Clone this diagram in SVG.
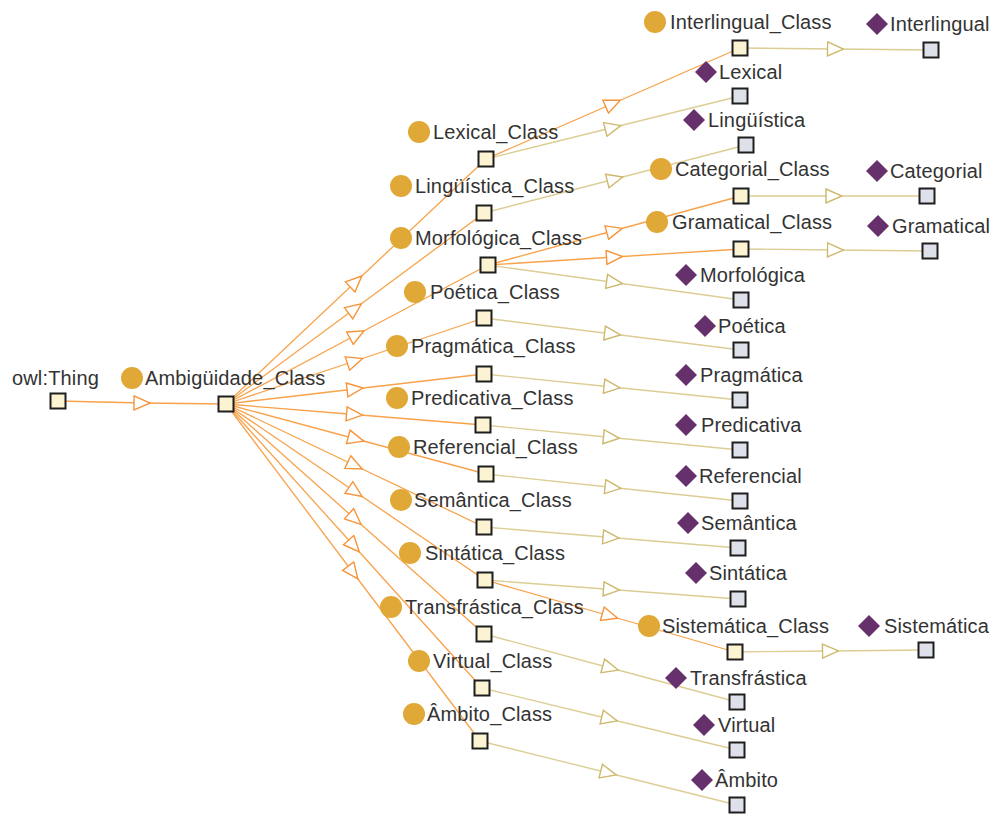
<svg xmlns="http://www.w3.org/2000/svg" width="994" height="816" viewBox="0 0 994 816">
<style>
text{font-family:"Liberation Sans",Arial,sans-serif;font-size:20px;letter-spacing:0.15px;fill:#333}
.cls{fill:#fbf3d2;stroke:#1e1e1e;stroke-width:2}
.ind{fill:#dfe1ea;stroke:#1e1e1e;stroke-width:2}
.ci{fill:#e0a836}
.di{fill:#65306b}
.sub{fill:none;stroke:#f8a24a;stroke-width:1.3;marker-mid:url(#ao)}
.ins{fill:none;stroke:#dccd94;stroke-width:1.3;marker-mid:url(#at)}
</style>
<defs>
<marker id="ao" markerUnits="userSpaceOnUse" markerWidth="18" markerHeight="16" viewBox="0 0 18 16" refX="9" refY="8" orient="auto"><path d="M1,1 L17,8 L1,15 Z" fill="#fff" stroke="#f7943a" stroke-width="1.4"/></marker>
<marker id="at" markerUnits="userSpaceOnUse" markerWidth="18" markerHeight="16" viewBox="0 0 18 16" refX="9" refY="8" orient="auto"><path d="M1,1 L17,8 L1,15 Z" fill="#fff" stroke="#cdb86c" stroke-width="1.4"/></marker>
</defs>
<rect width="994" height="816" fill="#fff"/>
<g id="connectors">
<path class="sub" d="M58,401 L142,403 L226,404"/>
<path class="sub" d="M226,404 L356,281.5 L486,159"/>
<path class="sub" d="M226,404 L355,308.5 L484,213"/>
<path class="sub" d="M226,404 L357,334.5 L488,265"/>
<path class="sub" d="M226,404 L355,361 L484,318"/>
<path class="sub" d="M226,404 L355,389 L484,374"/>
<path class="sub" d="M226,404 L354.5,414.5 L483,425"/>
<path class="sub" d="M226,404 L356,439 L486,474"/>
<path class="sub" d="M226,404 L355,465.5 L484,527"/>
<path class="sub" d="M226,404 L355.5,492 L485,580"/>
<path class="sub" d="M226,404 L355,519 L484,634"/>
<path class="sub" d="M226,404 L354,546 L482,688"/>
<path class="sub" d="M226,404 L353,572.5 L480,741"/>
<path class="sub" d="M486,159 L613,103.5 L740,48"/>
<path class="sub" d="M488,265 L614.5,230.5 L741,196"/>
<path class="sub" d="M488,265 L614.5,257 L741,249"/>
<path class="sub" d="M485,580 L610,616 L735,652"/>
<path class="ins" d="M740,48 L835.5,49 L931,50"/>
<path class="ins" d="M486,159 L613,127.5 L740,96"/>
<path class="ins" d="M484,213 L615,179 L746,145"/>
<path class="ins" d="M741,196 L834,196 L927,196"/>
<path class="ins" d="M741,249 L835.5,250 L930,251"/>
<path class="ins" d="M488,265 L614.5,282.5 L741,300"/>
<path class="ins" d="M484,318 L612.5,334 L741,350"/>
<path class="ins" d="M484,374 L612,387 L740,400"/>
<path class="ins" d="M483,425 L611.5,437.5 L740,450"/>
<path class="ins" d="M486,474 L613,487.5 L740,501"/>
<path class="ins" d="M484,527 L611,537.5 L738,548"/>
<path class="ins" d="M485,580 L611.5,589.5 L738,599"/>
<path class="ins" d="M735,652 L830.5,651 L926,650"/>
<path class="ins" d="M484,634 L610.5,668 L737,702"/>
<path class="ins" d="M482,688 L609.5,719 L737,750"/>
<path class="ins" d="M480,741 L608.5,773 L737,805"/>
</g>
<g id="owl-Thing"><text x="12" y="385">owl:Thing</text><rect class="cls" x="50.5" y="393.5" width="15" height="15"/></g>
<g id="Ambiguidade_Class"><circle class="ci" cx="132" cy="378" r="11"/><text x="145" y="385">Ambigüidade_Class</text><rect class="cls" x="218.5" y="396.5" width="15" height="15"/></g>
<g id="Lexical_Class"><circle class="ci" cx="419" cy="132" r="11"/><text x="433" y="139">Lexical_Class</text><rect class="cls" x="478.5" y="151.5" width="15" height="15"/></g>
<g id="Linguistica_Class"><circle class="ci" cx="401" cy="186" r="11"/><text x="415" y="193">Lingüística_Class</text><rect class="cls" x="476.5" y="205.5" width="15" height="15"/></g>
<g id="Morfologica_Class"><circle class="ci" cx="401" cy="238" r="11"/><text x="415" y="245">Morfológica_Class</text><rect class="cls" x="480.5" y="257.5" width="15" height="15"/></g>
<g id="Poetica_Class"><circle class="ci" cx="415" cy="292" r="11"/><text x="430" y="299">Poética_Class</text><rect class="cls" x="476.5" y="310.5" width="15" height="15"/></g>
<g id="Pragmatica_Class"><circle class="ci" cx="397" cy="346" r="11"/><text x="411" y="353">Pragmática_Class</text><rect class="cls" x="476.5" y="366.5" width="15" height="15"/></g>
<g id="Predicativa_Class"><circle class="ci" cx="397" cy="398" r="11"/><text x="411" y="405">Predicativa_Class</text><rect class="cls" x="475.5" y="417.5" width="15" height="15"/></g>
<g id="Referencial_Class"><circle class="ci" cx="399" cy="447" r="11"/><text x="413" y="454">Referencial_Class</text><rect class="cls" x="478.5" y="466.5" width="15" height="15"/></g>
<g id="Semantica_Class"><circle class="ci" cx="401" cy="500" r="11"/><text x="414" y="507">Semântica_Class</text><rect class="cls" x="476.5" y="519.5" width="15" height="15"/></g>
<g id="Sintatica_Class"><circle class="ci" cx="410" cy="553" r="11"/><text x="425" y="560">Sintática_Class</text><rect class="cls" x="477.5" y="572.5" width="15" height="15"/></g>
<g id="Transfrastica_Class"><circle class="ci" cx="391" cy="607" r="11"/><text x="405" y="614">Transfrástica_Class</text><rect class="cls" x="476.5" y="626.5" width="15" height="15"/></g>
<g id="Virtual_Class"><circle class="ci" cx="419" cy="661" r="11"/><text x="433" y="668">Virtual_Class</text><rect class="cls" x="474.5" y="680.5" width="15" height="15"/></g>
<g id="Ambito_Class"><circle class="ci" cx="414" cy="714" r="11"/><text x="427" y="721">Âmbito_Class</text><rect class="cls" x="472.5" y="733.5" width="15" height="15"/></g>
<g id="Interlingual_Class"><circle class="ci" cx="655" cy="22" r="11"/><text x="670" y="29">Interlingual_Class</text><rect class="cls" x="732.5" y="40.5" width="15" height="15"/></g>
<g id="Categorial_Class"><circle class="ci" cx="661" cy="169" r="11"/><text x="675" y="176">Categorial_Class</text><rect class="cls" x="733.5" y="188.5" width="15" height="15"/></g>
<g id="Gramatical_Class"><circle class="ci" cx="657" cy="222" r="11"/><text x="672" y="229">Gramatical_Class</text><rect class="cls" x="733.5" y="241.5" width="15" height="15"/></g>
<g id="Sistematica_Class"><circle class="ci" cx="649" cy="626" r="11"/><text x="662" y="633">Sistemática_Class</text><rect class="cls" x="727.5" y="644.5" width="15" height="15"/></g>
<g id="Interlingual"><polygon class="di" points="877,13 888,24 877,35 866,24"/><text x="890" y="31">Interlingual</text><rect class="ind" x="923.5" y="42.5" width="15" height="15"/></g>
<g id="Lexical"><polygon class="di" points="706,61 717,72 706,83 695,72"/><text x="719" y="79">Lexical</text><rect class="ind" x="732.5" y="88.5" width="15" height="15"/></g>
<g id="Linguistica"><polygon class="di" points="694,109 705,120 694,131 683,120"/><text x="708" y="127">Lingüística</text><rect class="ind" x="738.5" y="137.5" width="15" height="15"/></g>
<g id="Categorial"><polygon class="di" points="877,160 888,171 877,182 866,171"/><text x="890" y="178">Categorial</text><rect class="ind" x="919.5" y="188.5" width="15" height="15"/></g>
<g id="Gramatical"><polygon class="di" points="878,215 889,226 878,237 867,226"/><text x="892" y="233">Gramatical</text><rect class="ind" x="922.5" y="243.5" width="15" height="15"/></g>
<g id="Morfologica"><polygon class="di" points="686,264 697,275 686,286 675,275"/><text x="700" y="282">Morfológica</text><rect class="ind" x="733.5" y="292.5" width="15" height="15"/></g>
<g id="Poetica"><polygon class="di" points="705,315 716,326 705,337 694,326"/><text x="718" y="333">Poética</text><rect class="ind" x="733.5" y="342.5" width="15" height="15"/></g>
<g id="Pragmatica"><polygon class="di" points="686,364 697,375 686,386 675,375"/><text x="700" y="382">Pragmática</text><rect class="ind" x="732.5" y="392.5" width="15" height="15"/></g>
<g id="Predicativa"><polygon class="di" points="686,414 697,425 686,436 675,425"/><text x="701" y="432">Predicativa</text><rect class="ind" x="732.5" y="442.5" width="15" height="15"/></g>
<g id="Referencial"><polygon class="di" points="686,465 697,476 686,487 675,476"/><text x="699" y="483">Referencial</text><rect class="ind" x="732.5" y="493.5" width="15" height="15"/></g>
<g id="Semantica"><polygon class="di" points="688,512 699,523 688,534 677,523"/><text x="701" y="530">Semântica</text><rect class="ind" x="730.5" y="540.5" width="15" height="15"/></g>
<g id="Sintatica"><polygon class="di" points="696,562 707,573 696,584 685,573"/><text x="709" y="580">Sintática</text><rect class="ind" x="730.5" y="591.5" width="15" height="15"/></g>
<g id="Sistematica"><polygon class="di" points="869,615 880,626 869,637 858,626"/><text x="884" y="633">Sistemática</text><rect class="ind" x="918.5" y="642.5" width="15" height="15"/></g>
<g id="Transfrastica"><polygon class="di" points="676,667 687,678 676,689 665,678"/><text x="690" y="685">Transfrástica</text><rect class="ind" x="729.5" y="694.5" width="15" height="15"/></g>
<g id="Virtual"><polygon class="di" points="704,714 715,725 704,736 693,725"/><text x="718" y="732">Virtual</text><rect class="ind" x="729.5" y="742.5" width="15" height="15"/></g>
<g id="Ambito"><polygon class="di" points="702,769 713,780 702,791 691,780"/><text x="715" y="787">Âmbito</text><rect class="ind" x="729.5" y="797.5" width="15" height="15"/></g>
</svg>
